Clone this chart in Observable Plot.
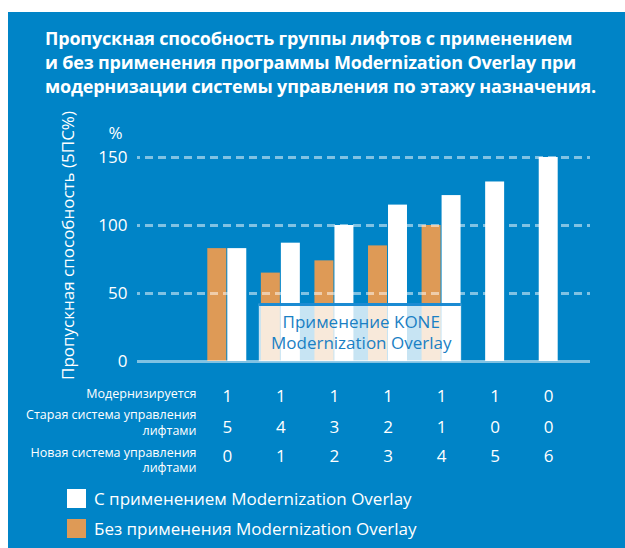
<!DOCTYPE html>
<html>
<head>
<meta charset="utf-8">
<script src="https://cdn.jsdelivr.net/npm/d3@7"></script>
<script src="https://cdn.jsdelivr.net/npm/@observablehq/plot@0.6"></script>
<style>
  html, body { margin: 0; padding: 0; background: #ffffff; }
  #wrap { position: relative; width: 625px; height: 548px; overflow: hidden; background: #ffffff; font-family: "Open Sans", sans-serif; }
  #panel { position: absolute; left: 8px; top: 12px; width: 617px; height: 536px; background: #0084c7; }
  #title { position: absolute; left: 45px; top: 26px; width: 570px; color: #ffffff; font-weight: 700; font-size: 18px; line-height: 24px; letter-spacing: -0.2px; }
  #chart { position: absolute; left: 0; top: 0; }
  .leg { position: absolute; left: 67px; display: flex; align-items: center; color: #ffffff; font-size: 17px; }
  .leg .sw { width: 19px; height: 19px; margin-right: 8px; }
</style>
</head>
<body>
<div id="wrap">
  <div id="panel"></div>
  <div id="title"></div>
  <div id="chart"></div>
  <div id="legend"></div>
</div>
<script>
// ---- data ----
const titleLines = [
  "Пропускная способность группы лифтов с применением",
  "и без применения программы Modernization Overlay при",
  "модернизации системы управления по этажу назначения."
];
const groups = [0, 1, 2, 3, 4, 5, 6];
const withOverlay = [83, 87, 100, 115, 122, 132, 150];
const withoutOverlay = [83, 65, 74, 85, 100, null, null];
const modernized = [1, 1, 1, 1, 1, 1, 0];
const oldSystem = [5, 4, 3, 2, 1, 0, 0];
const newSystem = [0, 1, 2, 3, 4, 5, 6];
const yTicks = [0, 50, 100, 150];
const gridTicks = [50, 100, 150];
const rowLabels = [
  "Модернизируется",
  "Старая система управления\nлифтами",
  "Новая система управления\nлифтами"
];
const seriesNames = ["С применением Modernization Overlay", "Без применения Modernization Overlay"];
const yTitle = "Пропускная способность (5ПС%)";
const yUnit = "%";
const boxLabel = "Применение KONE\nModernization Overlay";
const boxFrom = 1, boxTo = 4, boxTop = 42;

// ---- colours ----
const BLUE = "#0084c7";
const ORANGE = "#de9a56";
const BOXTEXT = "#1a80c4";

document.getElementById("title").innerHTML = titleLines.join("<br>");

const paired = groups.filter(i => withoutOverlay[i] != null);
const single = groups.filter(i => withoutOverlay[i] == null);
const table = groups.map(i => ({i, m: modernized[i], o: oldSystem[i], n: newSystem[i]}));
const half = 0.5;
const barInset = 17.3;

const chart = Plot.plot({
  width: 625,
  height: 548,
  marginLeft: 200,
  marginRight: 50,
  marginTop: 157,
  marginBottom: 187,
  style: {background: "transparent", color: "#ffffff", fontFamily: "'Open Sans', sans-serif", fontSize: "17px", overflow: "visible"},
  x: {domain: [-0.5, 6.5], axis: null},
  y: {domain: [0, 150], ticks: yTicks, tickSize: 0, tickPadding: 73, label: null},
  marks: [
    // orange bars (without overlay)
    Plot.rect(paired, {x1: i => i - half, x2: i => i + half, y1: 0, y2: i => withoutOverlay[i], fill: ORANGE, insetLeft: barInset, insetRight: barInset, dx: -10}),
    // white bars paired
    Plot.rect(paired, {x1: i => i - half, x2: i => i + half, y1: 0, y2: i => withOverlay[i], fill: "#ffffff", insetLeft: barInset, insetRight: barInset, dx: 10}),
    // white bars alone
    Plot.rect(single, {x1: i => i - half, x2: i => i + half, y1: 0, y2: i => withOverlay[i], fill: "#ffffff", insetLeft: barInset, insetRight: barInset}),
    // grid lines
    Plot.ruleY(gridTicks, {stroke: "#ffffff", strokeOpacity: 0.5, strokeWidth: 3, strokeDasharray: "8,5", strokeDashoffset: 5, insetLeft: -63, insetRight: -15}),
    // overlay annotation box
    Plot.rect([{a: boxFrom, b: boxTo}], {x1: d => d.a - half, x2: d => d.b + half, y1: 0, y2: boxTop, fill: "#ffffff", fillOpacity: 0.78, stroke: "#ffffff", strokeOpacity: 0.35, strokeWidth: 1, insetLeft: 5.5, insetRight: 7}),
    Plot.ruleY([boxTop], {x1: boxFrom - half, x2: boxTo + half, stroke: "#1b8bd3", strokeWidth: 3, insetLeft: 5.5, insetRight: 7}),
    Plot.text([boxLabel], {x: (boxFrom + boxTo) / 2, y: boxTop / 2, text: d => d, fill: BOXTEXT, fontSize: 17, lineHeight: 1.24, dy: -1}),
    // baseline
    Plot.ruleY([0], {stroke: "#ffffff", strokeOpacity: 0.5, strokeWidth: 3, insetLeft: -63, insetRight: -15}),
    // unit and axis title
    Plot.text([yUnit], {frameAnchor: "top-left", textAnchor: "middle", lineAnchor: "middle", dx: -85, dy: -24, fontSize: 17}),
    Plot.text([yTitle], {frameAnchor: "left", textAnchor: "middle", lineAnchor: "middle", rotate: -90, dx: -132, dy: -14, fontSize: 17}),
    // table rows
    Plot.text(table, {x: "i", text: "m", frameAnchor: "bottom", lineAnchor: "middle", dy: 35, fontSize: 17}),
    Plot.text(table, {x: "i", text: "o", frameAnchor: "bottom", lineAnchor: "middle", dy: 66, fontSize: 17}),
    Plot.text(table, {x: "i", text: "n", frameAnchor: "bottom", lineAnchor: "middle", dy: 95, fontSize: 17}),
    Plot.text([rowLabels[0]], {frameAnchor: "bottom-left", textAnchor: "end", lineAnchor: "middle", dx: -4, dy: 32, fontSize: 12.5}),
    Plot.text([rowLabels[1]], {frameAnchor: "bottom-left", textAnchor: "end", lineAnchor: "middle", dx: -4, dy: 60, fontSize: 12.5, lineHeight: 1.28}),
    Plot.text([rowLabels[2]], {frameAnchor: "bottom-left", textAnchor: "end", lineAnchor: "middle", dx: -4, dy: 98, fontSize: 12.5, lineHeight: 1.26})
  ]
});
document.getElementById("chart").appendChild(chart);

// legend
const legend = document.getElementById("legend");
const legColors = ["#ffffff", ORANGE];
const legTops = [487, 517];
seriesNames.forEach((name, k) => {
  const row = document.createElement("div");
  row.className = "leg";
  row.style.top = legTops[k] + "px";
  row.innerHTML = `<div class="sw" style="background:${legColors[k]}"></div><span>${name}</span>`;
  legend.appendChild(row);
});
</script>
</body>
</html>
